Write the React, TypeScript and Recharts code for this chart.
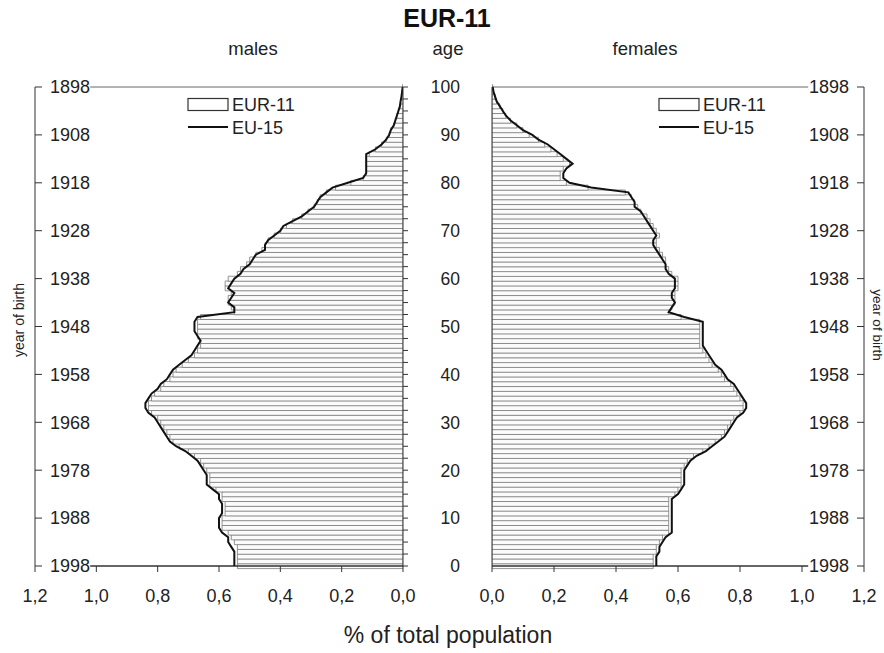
import { Bar, ComposedChart, Line, ReferenceLine, XAxis, YAxis } from 'recharts';

// age in completed years, 0..100
const AGES = [
  0, 1, 2, 3, 4, 5, 6, 7, 8, 9, 10, 11, 12, 13, 14, 15, 16, 17, 18, 19, 20, 21, 22, 23, 24, 25, 26, 27, 28, 29, 30, 31, 32,
  33, 34, 35, 36, 37, 38, 39, 40, 41, 42, 43, 44, 45, 46, 47, 48, 49, 50, 51, 52, 53, 54, 55, 56, 57, 58, 59, 60, 61, 62,
  63, 64, 65, 66, 67, 68, 69, 70, 71, 72, 73, 74, 75, 76, 77, 78, 79, 80, 81, 82, 83, 84, 85, 86, 87, 88, 89, 90, 91, 92,
  93, 94, 95, 96, 97, 98, 99, 100,
];

// % of total population, EUR-11 (bars)
const MALES_EUR11 = [
  0.54, 0.54, 0.54, 0.54, 0.54, 0.55, 0.56, 0.57, 0.59, 0.59, 0.59, 0.58, 0.58, 0.58, 0.59, 0.59, 0.61, 0.63, 0.63, 0.63,
  0.64, 0.65, 0.66, 0.68, 0.7, 0.73, 0.75, 0.76, 0.77, 0.78, 0.79, 0.8, 0.82, 0.83, 0.83, 0.82, 0.81, 0.79, 0.78, 0.76,
  0.75, 0.74, 0.72, 0.7, 0.68, 0.67, 0.66, 0.66, 0.67, 0.67, 0.67, 0.67, 0.66, 0.55, 0.56, 0.57, 0.57, 0.56, 0.58, 0.58,
  0.57, 0.54, 0.53, 0.51, 0.5, 0.48, 0.46, 0.45, 0.44, 0.42, 0.4, 0.38, 0.36, 0.33, 0.31, 0.29, 0.28, 0.27, 0.25, 0.22,
  0.17, 0.13, 0.12, 0.12, 0.12, 0.12, 0.11, 0.09, 0.07, 0.055, 0.045, 0.04, 0.03, 0.025, 0.02, 0.015, 0.01, 0.008, 0.005,
  0.003, 0.001,
];
const FEMALES_EUR11 = [
  0.52, 0.52, 0.52, 0.53, 0.53, 0.54, 0.55, 0.57, 0.57, 0.57, 0.57, 0.57, 0.57, 0.57, 0.57, 0.59, 0.6, 0.61, 0.61, 0.61,
  0.61, 0.62, 0.63, 0.65, 0.68, 0.7, 0.72, 0.74, 0.75, 0.76, 0.77, 0.78, 0.8, 0.81, 0.81, 0.8, 0.79, 0.78, 0.77, 0.75,
  0.74, 0.73, 0.71, 0.7, 0.69, 0.68, 0.67, 0.67, 0.67, 0.67, 0.67, 0.67, 0.61, 0.57, 0.58, 0.59, 0.59, 0.59, 0.6, 0.6,
  0.6, 0.58, 0.57, 0.56, 0.56, 0.55, 0.54, 0.53, 0.53, 0.54, 0.53, 0.52, 0.51, 0.5, 0.48, 0.47, 0.46, 0.45, 0.43, 0.31,
  0.24, 0.22, 0.22, 0.23, 0.25, 0.23, 0.21, 0.19, 0.17, 0.15, 0.12, 0.1, 0.08, 0.06, 0.045, 0.035, 0.025, 0.015, 0.01,
  0.005, 0.002,
];

// % of total population, EU-15 (line)
const MALES_EU15 = [
  0.55, 0.55, 0.55, 0.55, 0.56, 0.57, 0.57, 0.59, 0.6, 0.6, 0.6, 0.59, 0.59, 0.59, 0.6, 0.6, 0.62, 0.64, 0.64, 0.64,
  0.65, 0.66, 0.67, 0.69, 0.71, 0.74, 0.76, 0.77, 0.78, 0.79, 0.8, 0.81, 0.83, 0.84, 0.84, 0.83, 0.82, 0.8, 0.79, 0.77,
  0.76, 0.75, 0.73, 0.71, 0.69, 0.68, 0.67, 0.66, 0.67, 0.68, 0.68, 0.68, 0.67, 0.55, 0.55, 0.57, 0.56, 0.55, 0.57, 0.56,
  0.55, 0.53, 0.52, 0.5, 0.49, 0.48, 0.45, 0.45, 0.44, 0.42, 0.4, 0.39, 0.36, 0.33, 0.31, 0.29, 0.28, 0.27, 0.25, 0.23,
  0.18, 0.13, 0.12, 0.12, 0.12, 0.12, 0.12, 0.09, 0.07, 0.055, 0.045, 0.04, 0.03, 0.025, 0.02, 0.015, 0.01, 0.008, 0.005,
  0.003, 0.001,
];
const FEMALES_EU15 = [
  0.53, 0.53, 0.53, 0.54, 0.54, 0.55, 0.56, 0.58, 0.58, 0.58, 0.58, 0.58, 0.58, 0.58, 0.58, 0.6, 0.61, 0.62, 0.62, 0.62,
  0.62, 0.63, 0.64, 0.66, 0.69, 0.71, 0.73, 0.75, 0.76, 0.77, 0.78, 0.79, 0.81, 0.82, 0.82, 0.81, 0.8, 0.79, 0.78, 0.76,
  0.75, 0.74, 0.72, 0.71, 0.7, 0.69, 0.68, 0.68, 0.68, 0.68, 0.68, 0.68, 0.62, 0.57, 0.58, 0.59, 0.58, 0.58, 0.59, 0.59,
  0.59, 0.57, 0.56, 0.56, 0.55, 0.54, 0.53, 0.52, 0.52, 0.53, 0.52, 0.51, 0.5, 0.49, 0.48, 0.46, 0.46, 0.45, 0.44, 0.32,
  0.25, 0.23, 0.23, 0.24, 0.26, 0.24, 0.22, 0.2, 0.18, 0.15, 0.13, 0.1, 0.08, 0.06, 0.045, 0.035, 0.025, 0.015, 0.01,
  0.005, 0.002,
];

const REFERENCE_YEAR = 1998;
const AGE_TICKS = [
  0, 2.5, 5, 7.5, 10, 12.5, 15, 17.5, 20, 22.5, 25, 27.5, 30, 32.5, 35, 37.5, 40, 42.5, 45, 47.5, 50, 52.5, 55, 57.5, 60,
  62.5, 65, 67.5, 70, 72.5, 75, 77.5, 80, 82.5, 85, 87.5, 90, 92.5, 95, 97.5, 100,
];
const YEAR_TICKS = [1898, 1908, 1918, 1928, 1938, 1948, 1958, 1968, 1978, 1988, 1998];
const PCT_TICKS = [0, 0.2, 0.4, 0.6, 0.8, 1.0, 1.2];

const data = AGES.map((age, i) => ({
  age,
  year: REFERENCE_YEAR - age,
  males: MALES_EUR11[i],
  malesEu15: MALES_EU15[i],
  females: FEMALES_EUR11[i],
  femalesEu15: FEMALES_EU15[i],
}));

const FONT = '"Liberation Sans", Arial, Helvetica, sans-serif';
const INK = '#222';
const AXIS = '#333';
const BAR_FILL = '#fbfbfb';
const BAR_STROKE = '#7a7a7a';

const fmtPct = (v: number) => v.toFixed(1).replace('.', ',');
const tickStyle = { fill: INK, fontSize: 18, fontFamily: FONT };

// age labels sit between the two panels, only every 10 years
const AgeTick = ({ y, payload }: any) =>
  payload.value % 10 === 0 ? (
    <text x={460} y={y} dy="0.36em" textAnchor="end" fill={INK} fontSize={17.5} fontFamily={FONT}>
      {payload.value}
    </text>
  ) : (
    <g />
  );

function LegendBlock({ x }: { x: number }) {
  return (
    <g fontFamily={FONT} fontSize={18} fill={INK}>
      <rect x={x} y={98.5} width={40} height={12} fill="#fff" stroke="#333" strokeWidth={1.2} />
      <text x={x + 44} y={111}>EUR-11</text>
      <line x1={x} x2={x + 40} y1={127} y2={127} stroke="#111" strokeWidth={2} />
      <text x={x + 44} y={134}>EU-15</text>
    </g>
  );
}

export default function App() {
  return (
    <div style={{ position: 'absolute', left: 0, top: 0, width: 884, height: 653, background: '#fff' }}>
      <div style={{ position: 'absolute', left: 0, top: 0 }}>
        <ComposedChart
          width={470}
          height={653}
          data={data}
          layout="vertical"
          margin={{ top: 87, right: 0, bottom: 27, left: 35 }}
          barCategoryGap={0}
          barGap={0}
        >
          <XAxis
            type="number"
            domain={[0, 1.2]}
            ticks={PCT_TICKS}
            reversed
            allowDataOverflow
            tickFormatter={fmtPct}
            axisLine={false}
            tickSize={6}
            tickMargin={17}
            height={60}
            stroke={AXIS}
            tick={tickStyle}
            interval={0}
          />
          <YAxis
            yAxisId="year"
            type="number"
            dataKey="year"
            domain={[1898, 1998]}
            ticks={YEAR_TICKS}
            interval={0}
            orientation="left"
            mirror
            tickSize={7}
            tickMargin={8}
            stroke={AXIS}
            tick={tickStyle}
          />
          <YAxis
            yAxisId="age"
            type="number"
            dataKey="age"
            domain={[0, 100]}
            reversed
            ticks={AGE_TICKS}
            interval={0}
            orientation="right"
            width={67}
            tickSize={5}
            stroke={AXIS}
            tick={<AgeTick />}
          />
          <ReferenceLine yAxisId="age" segment={[{ x: 1.02, y: 100 }, { x: 0, y: 100 }]} stroke="#666" />
          <ReferenceLine yAxisId="age" segment={[{ x: 1.02, y: 0 }, { x: 0, y: 0 }]} stroke={AXIS} strokeWidth={1.5} />
          <Bar yAxisId="age" dataKey="males" fill={BAR_FILL} stroke={BAR_STROKE} strokeWidth={0.8} isAnimationActive={false} />
          <Line
            yAxisId="year"
            dataKey="malesEu15"
            type="linear"
            stroke="#111"
            strokeWidth={2}
            dot={false}
            isAnimationActive={false}
          />
        </ComposedChart>
      </div>

      <div style={{ position: 'absolute', left: 420, top: 0 }}>
        <ComposedChart
          width={464}
          height={653}
          data={data}
          layout="vertical"
          margin={{ top: 87, right: 20, bottom: 27, left: 0 }}
          barCategoryGap={0}
          barGap={0}
        >
          <XAxis
            type="number"
            domain={[0, 1.2]}
            ticks={PCT_TICKS}
            allowDataOverflow
            tickFormatter={fmtPct}
            axisLine={false}
            tickSize={6}
            tickMargin={17}
            height={60}
            stroke={AXIS}
            tick={tickStyle}
            interval={0}
          />
          <YAxis
            yAxisId="age"
            type="number"
            dataKey="age"
            domain={[0, 100]}
            reversed
            ticks={AGE_TICKS}
            interval={0}
            orientation="left"
            width={72}
            tickSize={5}
            stroke={AXIS}
            tick={false}
          />
          <YAxis
            yAxisId="year"
            type="number"
            dataKey="year"
            domain={[1898, 1998]}
            ticks={YEAR_TICKS}
            interval={0}
            orientation="right"
            mirror
            tickSize={7}
            tickMargin={8}
            stroke={AXIS}
            tick={tickStyle}
          />
          <ReferenceLine yAxisId="age" segment={[{ x: 0, y: 100 }, { x: 1.02, y: 100 }]} stroke="#666" />
          <ReferenceLine yAxisId="age" segment={[{ x: 0, y: 0 }, { x: 1.02, y: 0 }]} stroke={AXIS} strokeWidth={1.5} />
          <Bar yAxisId="age" dataKey="females" fill={BAR_FILL} stroke={BAR_STROKE} strokeWidth={0.8} isAnimationActive={false} />
          <Line
            yAxisId="year"
            dataKey="femalesEu15"
            type="linear"
            stroke="#111"
            strokeWidth={2}
            dot={false}
            isAnimationActive={false}
          />
        </ComposedChart>
      </div>

      <svg
        width={884}
        height={653}
        style={{ position: 'absolute', left: 0, top: 0, pointerEvents: 'none' }}
        fontFamily={FONT}
        fill={INK}
      >
        <text x={447} y={27} textAnchor="middle" fontSize={25} fontWeight="bold" fill="#111">
          EUR-11
        </text>
        <text x={253} y={55} textAnchor="middle" fontSize={18.5}>
          males
        </text>
        <text x={448} y={55} textAnchor="middle" fontSize={18.5}>
          age
        </text>
        <text x={645} y={55} textAnchor="middle" fontSize={18.5}>
          females
        </text>
        <text x={448} y={643} textAnchor="middle" fontSize={23}>
          % of total population
        </text>
        <text x={0} y={0} transform="translate(24 320) rotate(-90)" textAnchor="middle" fontSize={14}>
          year of birth
        </text>
        <text x={0} y={0} transform="translate(873 325) rotate(90)" textAnchor="middle" fontSize={13.5}>
          year of birth
        </text>
        <LegendBlock x={188} />
        <LegendBlock x={659} />
      </svg>
    </div>
  );
}
